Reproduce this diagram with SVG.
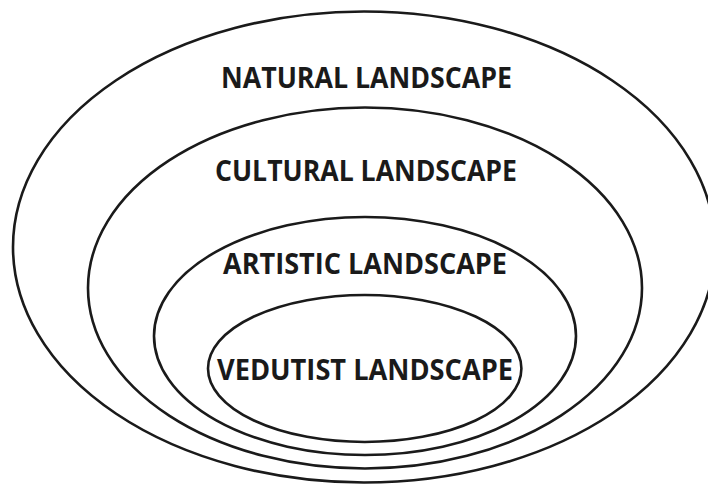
<svg xmlns="http://www.w3.org/2000/svg" width="708" height="484" viewBox="0 0 708 484">
  <style>
    .ring { fill: none; stroke: #1a1a1a; stroke-width: 2.6; }
    .label { font-family: "Open Sans", "Liberation Sans", sans-serif; font-weight: 700; font-size: 29px; fill: #1a1a1a; text-anchor: middle; }
  </style>
  <rect width="708" height="484" fill="#ffffff"/>
  <g id="natural">
    <ellipse class="ring" cx="364" cy="247" rx="351" ry="235.5"/>
    <text class="label" x="366.5" y="88" textLength="291" lengthAdjust="spacingAndGlyphs">NATURAL LANDSCAPE</text>
  </g>
  <g id="cultural">
    <ellipse class="ring" cx="365" cy="288" rx="277" ry="180.5"/>
    <text class="label" x="366" y="180.7" textLength="302" lengthAdjust="spacingAndGlyphs">CULTURAL LANDSCAPE</text>
  </g>
  <g id="artistic">
    <ellipse class="ring" cx="365" cy="336" rx="211" ry="119"/>
    <text class="label" x="365" y="274.3" textLength="284" lengthAdjust="spacingAndGlyphs">ARTISTIC LANDSCAPE</text>
  </g>
  <g id="vedutist">
    <ellipse class="ring" cx="364.7" cy="368.5" rx="156.7" ry="73.5"/>
    <text class="label" x="365" y="380" textLength="296" lengthAdjust="spacingAndGlyphs">VEDUTIST LANDSCAPE</text>
  </g>
</svg>
